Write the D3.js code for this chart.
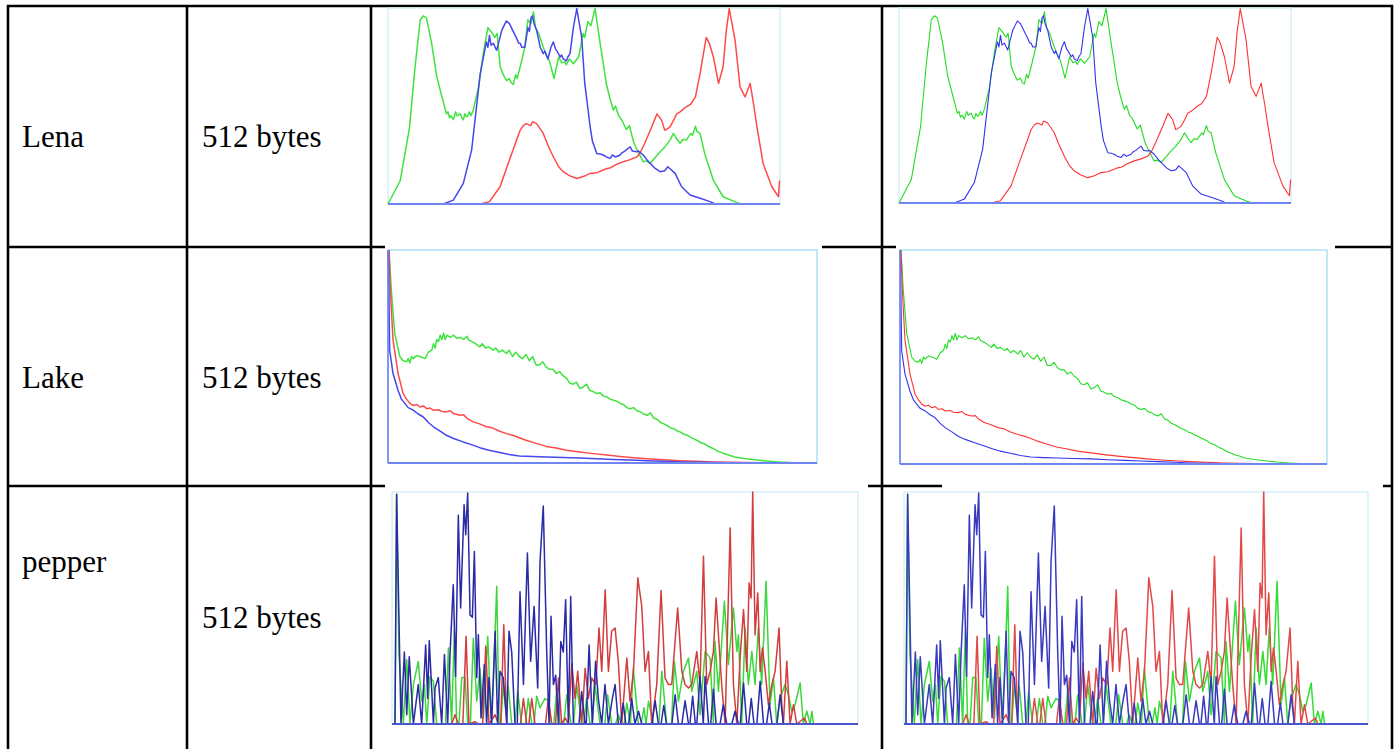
<!DOCTYPE html>
<html>
<head>
<meta charset="utf-8">
<script src="https://cdn.jsdelivr.net/npm/d3@7"></script>
<style>
  html, body { margin: 0; padding: 0; background: #fff; }
  svg { display: block; }
  .cell { font-family: "Liberation Serif", "Times New Roman", Times, "Nimbus Roman", "Noto Serif", "DejaVu Serif", FreeSerif, serif; font-size: 31px; fill: #000; }
</style>
</head>
<body>
<svg id="root"></svg>
<script>
// table text
const imageNames = ["Lena", "Lake", "pepper"];
const keySizes = ["512 bytes", "512 bytes", "512 bytes"];

// histograms, [bin (0-255), height in % of max]
const lenaGreen = [[0,0],[8,12],[14,39],[17.6,70],[21,94],[23,96],[25,95],[28.4,82],[31.7,65],[35,55],[38,46],[39,47],[40,44],[41,45],[42.5,43],[44,47],[45,45],[47,46],[48,44],[49,43],[50,46],[51,44.5],[52,45],[53,47],[54,45],[55.5,48],[59,60],[62,77],[65,90],[67,88],[69.6,85],[71,87],[73,70],[75,66],[77,63],[79,64],[80,62],[81.5,61],[83,66],[84,64],[86,70],[89,80],[91,94],[93,92],[94.6,98],[96,90],[98,87],[101,80],[103,76],[105,73],[108,64],[111,75],[113,72],[115,72.5],[116,71],[118,74],[120.6,71.6],[124,75],[127,87],[128,85],[130,93],[132,91],[134.7,99.7],[138,82],[142,61.5],[144,55],[146.6,48],[148,50],[150,45],[152,43],[155,38],[157,40],[160,31],[163,26],[166,21.6],[168,22],[170.5,20.7],[173,23],[177,26.7],[180,29],[183.5,32.6],[185.7,36],[188,33],[190,31],[192,33],[194,32.6],[197,36],[198,35],[200,39.7],[201,37],[203,36],[206,25.8],[211.7,12],[218,3.7],[227,0.7],[230,0],[255,0]];
const lenaBlue = [[0,0],[36,0],[42.5,2],[49,10.5],[54.4,27.5],[60,66.5],[64,82.7],[65,80],[66,86],[67,81],[68.5,82],[70.7,78.4],[74,88.6],[77,93.4],[79,92],[81.6,87.8],[84,84],[85,82],[86,82],[87,80],[89,80],[91,90],[92,88],[93,95],[94,96],[95,92],[96.7,88.6],[99,80],[101,76.7],[102,78],[104,74],[106,80],[107.6,82.7],[109,79],[110,78],[112,75],[113,76],[114,74],[116,73],[117,75],[118.4,76.7],[120.6,90],[122.8,99.7],[126,85],[128,61.5],[131.5,39.4],[133,32],[135.8,25.8],[138,25.5],[140,25],[142,24],[144.5,23.3],[146,25],[148,24],[151,25],[152,26],[154,27],[157.5,29.2],[159,27],[161.8,26.7],[163,27],[166,25],[169,22],[171.6,19.9],[174,18],[177,16.5],[180,17],[182,19],[183.5,18],[186.8,15.6],[191,8.8],[196.5,4.6],[203,2.9],[209.5,1.2],[212.8,0],[255,0]];
const lenaRed = [[0,0],[60,0],[66,1.2],[72.9,8.8],[79,22.4],[86,37.7],[88,40],[90,41],[93,40],[94,42],[96.7,41],[101,36],[104,30],[107.6,24],[111,19],[114,16.5],[118,14.5],[122.8,13],[127,14],[131.5,15.6],[136,16],[142,18],[145,18.5],[148,20],[153,21.6],[157,22.5],[161.8,24],[164,26],[167,31],[171.6,39.4],[175,46],[178,42.8],[180,37.7],[181,38],[183.5,39.4],[186,43],[187.8,46],[190,47],[194,49.6],[197,51],[200,54.7],[203,66.5],[207,85],[209,82],[211.7,75],[215,61.5],[218,70],[220,88],[222,99.7],[225.8,83.5],[229,59.8],[232.3,54.7],[235.6,61.5],[238,50],[240,39.4],[244,20.7],[249.7,8.8],[254,3.7],[254.7,12]];

const lakeGreen = [[0.6,100],[2,81],[4,61],[7,50],[9,48],[11,47.5],[12,49],[13,47],[14,50],[15,49],[17,50.5],[19,50],[22,49],[24,52],[26,53],[27,56],[28,54],[29,58],[30,57],[31,60],[32,58],[33,61],[34,58],[35,60],[37,59],[39,60],[41,58.5],[43,59],[45,58],[47,59.5],[48,57.7],[50,57],[52,56],[54.6,54.5],[56,56],[58,54],[60,54.5],[62.5,53],[64,54],[66,52],[68,53],[70.4,51.4],[72,53],[74,50],[76,52],[78,50],[80,49],[82,51],[84,48],[86,50],[88,46],[90,46],[92,47.5],[94,45],[96,44],[98,44],[100,42],[102,43],[104,41],[106,40],[108,37.5],[110,37],[112,38],[114,35],[116,35.7],[118,37],[120,34],[122,33.5],[124,32.6],[126,33],[128,31.5],[130,31],[132,30],[134,29.5],[136,29],[138,28],[140,27.5],[142,26],[144,25.5],[146,26],[148,24.5],[150,24],[152,23],[154,22.4],[156,23.5],[158,21],[160,20.5],[162,19],[163.7,18.5],[166,17.5],[168,16.5],[170,16],[172,15],[173.6,14.6],[176,13.5],[178,13],[180,12],[183.5,10.7],[186,9.5],[188,9],[190,8],[193.5,6.7],[196,5.5],[198,5],[200,4.3],[203,3.6],[206,2.8],[210,2.3],[213,2],[218,1.5],[225,0.9],[232,0.5],[239,0.2],[247,0]];
const lakeRed = [[0.6,100],[1.4,81],[3,57.7],[6,42],[9,32.6],[11,30],[13,28],[15,27],[17,27.5],[19,26.3],[21,26.8],[23,25.5],[25,25.8],[27,24.8],[30,25],[32,24.2],[34.7,24],[37,24.5],[39,23.2],[42.7,22.4],[45,22.6],[47,21],[50.6,19.3],[54,18.5],[58.5,17],[62,16.5],[66,15],[70.4,13.8],[75,12.8],[82,10.7],[88,9.2],[94,7.8],[100,7],[106,6],[114,5.2],[122,4.4],[130,3.7],[138,3.1],[146,2.5],[154,2],[164,1.5],[173.6,1.1],[183,0.8],[193.5,0.5],[203,0.3],[213,0.2],[233,0],[255,0]];
const lakeBlue = [[0.2,100],[1,53],[3,42],[6,34],[8,30],[10,28],[12,26],[15,24.8],[18,23],[21,21.6],[24,19],[27,17],[31,15],[34.7,13],[39,11.5],[44.6,9.9],[50,8.5],[54.6,7.2],[60,6],[66.5,4.9],[72,4],[78,3.3],[86,3],[94,2.8],[104,2.6],[114,2.4],[124,2],[134,1.7],[144,1.4],[154,1.1],[164,0.8],[173.6,0.5],[183,0.3],[193.5,0.2],[213,0],[255,0]];

const pepperGreen = [[0,0],[0.9,99],[2.2,30],[4.6,0],[6.5,27.7],[8.3,0],[10.2,17],[12.9,27],[14.8,9.8],[16.3,17],[17.6,0],[19.4,20.5],[21.3,18.4],[23.1,0],[28,0],[29.6,32.8],[31.4,0],[32.9,40],[34.2,0],[35.5,0],[37,20],[38.8,20],[40.3,0],[41.8,0],[43.4,37],[45.3,9.8],[47.1,24],[49,2.6],[51.4,37.8],[53.2,2.6],[54.5,18.4],[56.4,59.4],[57.7,0],[58.6,0],[60.1,17],[61.4,6],[62.8,16.2],[64.7,0],[66.5,0],[68,14],[70.2,0],[72.3,0],[73.9,11],[75.8,0],[77,0],[78.6,12],[80.4,7],[83.2,11],[85,9.8],[86.8,0],[88,0],[89.6,14],[91.5,0],[93.6,0],[95.2,12.6],[97.6,0],[99,0],[100.7,17],[103.5,0],[104.6,0],[106.2,11],[108.1,0],[109.3,0],[110.9,17],[113.6,0],[116.3,0],[117.9,12.6],[120.1,0],[122.3,0],[123.8,4],[125.5,0],[127,0],[128.5,9],[130.5,0],[132.1,24],[134.9,0],[136.5,0],[138,7],[139.2,0],[140.5,9.8],[143.3,0],[146.3,0],[147.9,22.7],[150.6,0],[153.3,0],[154.9,27],[157.1,9.8],[159.9,22.7],[162.7,28.4],[164.5,14],[167.3,22.7],[169.1,4],[171.9,31.3],[174.7,28.4],[176.5,0],[177.4,35.6],[179.3,14],[182.6,52.9],[184.8,25.6],[187.6,50],[189.5,31.3],[190.4,38.5],[192.2,0],[194.1,41.4],[195.9,17],[197.8,31.3],[199.6,17],[201.4,41.4],[203.3,17],[205.7,61.5],[207.9,8.3],[209.8,19.8],[211.6,0],[213.5,11],[216.2,17],[218.1,12.6],[219.9,5.5],[221.8,8.3],[224.6,17.7],[226.4,0],[228.3,5.5],[230.1,0],[231.1,5.5],[232,0],[255,0]];
const pepperRed = [[0,0],[31.4,0],[33.3,4],[35.1,0],[37.6,0],[39.4,37.8],[41,0],[44.4,1],[46.2,0],[48.6,0],[50.3,33.5],[52.1,0],[55.5,4],[57.3,0],[58.6,0],[60.3,42.8],[61.9,0],[69.6,0],[71.2,11],[73,0],[74.2,0],[75.8,11],[77.6,0],[83.4,0],[85,11],[86.9,0],[89,0],[90.6,19.8],[92.4,0],[94.3,2.6],[96.1,0],[98,26.3],[99.8,11],[101.3,22.7],[103.5,0],[105.4,24],[107.2,11],[109.1,19.8],[111.3,17],[113.1,41.4],[114.6,22.7],[116.5,57.9],[118.3,22.7],[120.1,40],[122,41.4],[123.8,27],[125.7,0],[128.5,28.4],[130.3,9.8],[132.2,22.7],[134.6,63],[136.8,50.7],[138.6,22.7],[140.5,31.3],[142.3,0],[145.1,17],[147.5,57.5],[149.7,19.8],[151.6,17],[153.4,17],[156.7,50],[159,22.7],[160.8,17],[162.7,15.5],[164.5,17],[167.3,31.3],[169.1,17],[171,72.3],[172.8,17],[174.7,22.7],[176.5,31.3],[178,54.3],[179.3,38.5],[181.1,17],[183,0],[185.8,84.5],[187.6,17],[189.5,0],[191.3,28.4],[193.2,49.3],[195,22.7],[196.3,60.8],[197.4,54.3],[198.3,100],[199.6,38.5],[201.1,56.5],[202.4,22.7],[203.7,32.8],[205.2,22.7],[207,8.3],[208.9,17],[210.7,22.7],[212.9,41.4],[214.4,8.3],[215.3,0],[217.2,27],[219,0],[220.9,8.3],[222.7,0],[227,2.6],[228.3,0]];
const pepperBlue = [[0,0],[0.9,99],[3.3,0],[5.2,31],[6.5,4],[7.9,29],[10.2,0],[12.9,17],[14.8,0],[17,34],[18.1,11],[19,36],[21.3,0],[22.2,15.5],[24,20],[25.9,0],[27.4,30],[29.2,0],[30.5,30],[32.3,60],[33.6,20.5],[35.1,90],[36.4,50],[38.3,94.5],[39.2,81.6],[40.3,99.6],[41.6,47],[42.9,46],[44,74.4],[45.3,20],[46.2,38.5],[47.7,2.6],[49.5,25.6],[50.8,0],[52.1,20],[53.6,0],[55.5,40],[56.9,0],[58.2,22.7],[60,20],[62,0],[63.2,40],[64.7,31],[66.5,0],[67.8,0],[69.3,57],[71.2,17],[73.4,73.7],[75.2,27],[77.1,50.7],[79.1,15.5],[80.4,70],[82.2,94],[84.1,31],[85.4,0],[86.5,46.4],[87.8,17],[89.1,21],[90.6,0],[91.9,35.6],[93.3,31],[94.6,53.6],[96.1,0],[97.4,55],[98.9,0],[102,0],[103.5,14],[105.3,0],[106,0],[107.6,34],[109.4,0],[111.2,27],[112.7,11],[114.6,0],[116.4,17],[118.3,0],[120.5,11],[122,17],[123.8,0],[125,0],[126.5,9],[128,0],[129.5,0],[131.2,11],[133,0],[135,5.5],[136.8,0],[142.5,0],[144.2,10],[146,0],[147.5,0],[149,8],[150.5,0],[153.5,0],[155.3,12.6],[157.1,0],[159,0],[160.8,10],[162.7,0],[163.5,0],[165,12],[166.5,0],[167.3,0],[169.1,20.5],[170.9,0],[171.9,20.5],[173.8,0],[175,0],[176.5,15],[178,0],[180.2,0],[182,8.3],[183.9,0],[186.7,0],[188.5,5.5],[190.4,0],[191.4,0],[193.2,17.7],[195,0],[196,0],[197.5,11],[199,0],[200.6,0],[202.4,18.4],[204.3,0],[206,0],[207.5,9],[209,0],[211.7,0],[213.5,12.6],[215.3,0],[255,0]];

const histograms = [
  { green: lenaGreen, red: lenaRed, blue: lenaBlue },
  { green: lakeGreen, red: lakeRed, blue: lakeBlue },
  { green: pepperGreen, red: pepperRed, blue: pepperBlue },
];

const width = 1398;
const height = 749;

// table grid
const colLines = [8, 187, 371, 882, 1392];
const rowLines = [6, 247, 486];
const rowBaselines = [[147, 147], [388, 388], [572, 628]];

// plot boxes: box = frame, x = pixel range of bins 0..255, bg = white patch of the pasted picture
const plotBoxes = [
  [{ box: [388, 8, 780, 204], x: [388, 780], bg: null }, { box: [899, 8, 1291, 203], x: [899, 1291], bg: null }],
  [{ box: [388, 250, 817, 463], x: [388, 817], bg: [385, 244, 822, 470] }, { box: [900, 250, 1327, 464], x: [900, 1327], bg: [896, 244, 1335, 470] }],
  [{ box: [392, 492, 858, 724], x: [395, 855], bg: [385, 483, 868, 740] }, { box: [904, 492, 1368, 724], x: [906, 1366], bg: [942, 483, 1383, 490] }],
];

const colors = {
  soft: { green: "#3fe33f", red: "#ff4a4a", blue: "#4646ee" },
  sharp: { green: "#22dd22", red: "#ff3333", blue: "#3333ee" },
  pepperSoft: { green: "#3ed63e", red: "#d23c3c", blue: "#2a2aa6" },
  pepperSharp: { green: "#33dd33", red: "#e24848", blue: "#3a3ac0" },
};

const svg = d3.select("#root").attr("width", width).attr("height", height);

svg.append("defs")
  .append("filter")
  .attr("id", "soft")
  .attr("x", "-5%").attr("y", "-5%").attr("width", "110%").attr("height", "110%")
  .append("feGaussianBlur")
  .attr("stdDeviation", 0.55);

svg.append("rect").attr("width", width).attr("height", height).attr("fill", "#fff");

// horizontal rules go under the pictures
svg.append("g")
  .selectAll("line")
  .data(rowLines)
  .join("line")
  .attr("x1", colLines[0] - 1)
  .attr("x2", colLines[colLines.length - 1] + 1)
  .attr("y1", (d) => d)
  .attr("y2", (d) => d)
  .attr("stroke", "#000")
  .attr("stroke-width", 2.6);

function drawPlot(spec, hist, rowIdx, colIdx) {
  const [bx0, by0, bx1, by1] = spec.box;
  const g = svg.append("g");
  if (spec.bg) {
    g.append("rect")
      .attr("x", spec.bg[0]).attr("y", spec.bg[1])
      .attr("width", spec.bg[2] - spec.bg[0]).attr("height", spec.bg[3] - spec.bg[1])
      .attr("fill", "#fff");
  }

  const x = d3.scaleLinear().domain([0, 255]).range(spec.x);
  const y = d3.scaleLinear().domain([0, 100]).range([by1, by0]);

  const frameColor = rowIdx === 1 ? "#a6def2" : "#d2eef7";
  g.append("rect")
    .attr("x", bx0).attr("y", by0)
    .attr("width", bx1 - bx0).attr("height", by1 - by0)
    .attr("fill", "none")
    .attr("stroke", frameColor)
    .attr("stroke-width", 1.4);

  const soft = colIdx === 0;
  const pal = rowIdx === 2 ? (soft ? colors.pepperSoft : colors.pepperSharp) : (soft ? colors.soft : colors.sharp);

  const line = d3.line().x((d) => x(d[0])).y((d) => y(d[1]));
  const lines = g.append("g").attr("filter", soft ? "url(#soft)" : null);

  ["green", "red", "blue"].forEach((k) => {
    lines.append("path")
      .datum(hist[k])
      .attr("d", line)
      .attr("fill", "none")
      .attr("stroke", pal[k])
      .attr("stroke-width", rowIdx === 2 ? 1.5 : (soft ? 1.5 : 1.1))
      .attr("stroke-linejoin", "round");
  });

  // base axis
  g.append("line")
    .attr("x1", bx0).attr("x2", bx1)
    .attr("y1", by1).attr("y2", by1)
    .attr("stroke", rowIdx === 2 ? "#4b55cc" : "#6f86f2")
    .attr("stroke-width", 1.8);

  if (rowIdx === 1) {
    g.append("line")
      .attr("x1", bx0).attr("x2", bx0)
      .attr("y1", by0).attr("y2", by1)
      .attr("stroke", "#6f86f2")
      .attr("stroke-width", 1.6);
  }
}

histograms.forEach((hist, r) => {
  plotBoxes[r].forEach((spec, c) => drawPlot(spec, hist, r, c));
});

// vertical rules on top
svg.append("g")
  .selectAll("line")
  .data(colLines)
  .join("line")
  .attr("x1", (d) => d)
  .attr("x2", (d) => d)
  .attr("y1", rowLines[0] - 1)
  .attr("y2", height)
  .attr("stroke", "#000")
  .attr("stroke-width", 2.6);

// text cells
const textG = svg.append("g");

textG.selectAll(".name")
  .data(imageNames)
  .join("text")
  .attr("class", "cell name")
  .attr("x", 22)
  .attr("y", (d, i) => rowBaselines[i][0])
  .text((d) => d);

textG.selectAll(".size")
  .data(keySizes)
  .join("text")
  .attr("class", "cell size")
  .attr("x", 202)
  .attr("y", (d, i) => rowBaselines[i][1])
  .text((d) => d);
</script>
</body>
</html>
